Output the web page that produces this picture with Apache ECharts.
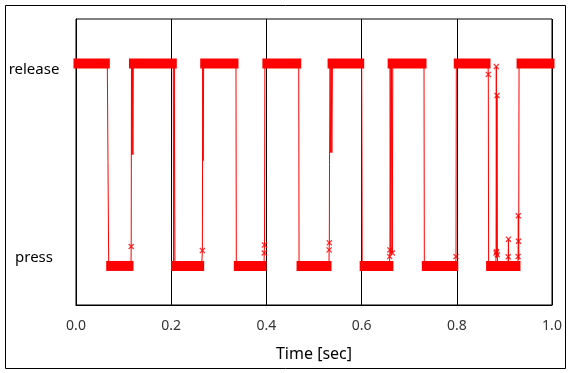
<!DOCTYPE html>
<html>
<head>
<meta charset="utf-8">
<script src="https://cdn.jsdelivr.net/npm/echarts@6/dist/echarts.min.js"></script>
<style>
  html, body { margin: 0; padding: 0; background: #fff; }
  #chart { width: 571px; height: 373px; }
</style>
</head>
<body>
<div id="chart"></div>
<script>
// Level names (value 1 = release, value 0 = press)
const levelNames = { 0: 'press', 1: 'release' };
const xTicks = [0.0, 0.2, 0.4, 0.6, 0.8, 1.0];

// Signal trace: [time (s), level]
const signal = [
  [0, 1], [0.0658, 1], [0.0672, 0.51], [0.0687, 0],
  [0.1155, 0], [0.1160, 0.096], [0.1165, 1], [0.1175, 0.55], [0.1185, 1], [0.1195, 0.55], [0.1205, 1],
  [0.2044, 1], [0.2050, 0], [0.2065, 1], [0.2078, 0],
  [0.2640, 0], [0.2655, 0.076], [0.2662, 1], [0.2672, 0.52], [0.2682, 1],
  [0.3361, 1], [0.3368, 0],
  [0.3950, 0], [0.3955, 0.064], [0.3960, 0.104], [0.3968, 1],
  [0.4679, 1], [0.4686, 0],
  [0.5315, 0], [0.5318, 0.079], [0.5322, 0.114], [0.5326, 0.50], [0.5338, 1], [0.5350, 0.56], [0.5362, 1], [0.5375, 0.56], [0.5388, 1],
  [0.6002, 1], [0.6008, 0.5], [0.6012, 0],
  [0.6585, 0], [0.6590, 0.046], [0.6595, 0.079], [0.6600, 1], [0.6615, 0.06], [0.6630, 1], [0.6645, 0.064], [0.6655, 1],
  [0.7311, 1], [0.7318, 0],
  [0.7978, 0], [0.7983, 0.046], [0.7990, 1],
  [0.8655, 1], [0.8662, 0.946], [0.8668, 0],
  [0.8820, 0], [0.8825, 0.064], [0.8830, 0.985], [0.8838, 0.04], [0.8845, 0.842], [0.8852, 0.05], [0.8860, 0],
  [0.9075, 0], [0.9080, 0.045], [0.9085, 0.132], [0.9090, 0],
  [0.9285, 0], [0.9288, 0.046], [0.9292, 0.248], [0.9296, 0.122], [0.9300, 0.03], [0.9308, 1],
  [1.0, 1]
];

// Dense sample bands: [start, end] at each level
const releaseSegs = [[0, 0.0658], [0.1165, 0.2065], [0.2662, 0.3361], [0.3968, 0.4679], [0.5338, 0.6002], [0.6600, 0.7311], [0.7990, 0.8655], [0.9308, 1.0]];
const pressSegs = [[0.0687, 0.1155], [0.2050, 0.2640], [0.3368, 0.3950], [0.4686, 0.5315], [0.6012, 0.6615], [0.7318, 0.7978], [0.8668, 0.9285]];

// Isolated sample markers off the levels: [time, level]
const markers = [
  [0.1160, 0.096], [0.2655, 0.076], [0.3955, 0.064], [0.3960, 0.104],
  [0.5318, 0.079], [0.5322, 0.114], [0.6590, 0.046], [0.6595, 0.079], [0.6645, 0.064],
  [0.7983, 0.046], [0.8662, 0.946], [0.8825, 0.064], [0.8830, 0.985], [0.8845, 0.842],
  [0.8835, 0.07], [0.8850, 0.055], [0.9080, 0.045], [0.9085, 0.132],
  [0.9288, 0.046], [0.9292, 0.248], [0.9296, 0.122]
];

const bandData = releaseSegs.map(s => [s[0], s[1], 1]).concat(pressSegs.map(s => [s[0], s[1], 0]));

const RED = '#ff0000';
const xPath = 'path://M0,1.5L1.5,0L5,3.5L8.5,0L10,1.5L6.5,5L10,8.5L8.5,10L5,6.5L1.5,10L0,8.5L3.5,5Z';

const chart = echarts.init(document.getElementById('chart'), null, { renderer: 'canvas' });
chart.setOption({
  animation: false,
  backgroundColor: '#fff',
  graphic: [{
    type: 'rect',
    shape: { x: 5.5, y: 5.5, width: 560, height: 363 },
    style: { fill: 'none', stroke: '#000', lineWidth: 1 },
    silent: true
  }],
  grid: {
    left: 76, top: 19, right: 19, bottom: 68,
    show: true, borderColor: '#000', borderWidth: 1, backgroundColor: 'transparent'
  },
  xAxis: {
    type: 'value',
    min: 0, max: 1, interval: 0.2,
    name: 'Time [sec]',
    nameLocation: 'middle',
    nameGap: 41,
    nameTextStyle: { color: '#000', fontSize: 16, fontFamily: 'Noto Sans' },
    axisLine: { show: true, onZero: false, lineStyle: { color: '#000', width: 1 } },
    axisTick: { show: false },
    splitLine: { show: true, lineStyle: { color: '#000', width: 1 } },
    axisLabel: {
      color: '#333', fontSize: 14, fontFamily: 'Noto Sans', margin: 14,
      customValues: xTicks,
      formatter: v => v.toFixed(1)
    }
  },
  yAxis: {
    type: 'value',
    min: -0.193, max: 1.22,
    axisLine: { show: true, onZero: false, lineStyle: { color: '#000', width: 1 } },
    axisTick: { show: false },
    splitLine: { show: false },
    axisLabel: {
      customValues: [0, 1],
      align: 'center',
      margin: 42,
      formatter: v => (Math.round(v) === 1 ? '{r|' + levelNames[1] + '}' : '{p|' + levelNames[0] + '}'),
      rich: {
        r: { color: '#000', fontSize: 15, fontFamily: 'Noto Sans', padding: [12, 0, 0, 0] },
        p: { color: '#000', fontSize: 15, fontFamily: 'Noto Sans', padding: [0, 0, 17, 0] }
      }
    }
  },
  series: [
    {
      type: 'custom',
      name: 'bands',
      data: bandData,
      encode: { x: [0, 1], y: 2 },
      renderItem: function (params, api) {
        const p1 = api.coord([api.value(0), api.value(2)]);
        const p2 = api.coord([api.value(1), api.value(2)]);
        return {
          type: 'rect',
          shape: { x: p1[0] - 2.5, y: p1[1] - 5, width: p2[0] - p1[0] + 5, height: 10 },
          style: { fill: RED }
        };
      },
      z: 2
    },
    {
      type: 'line',
      name: 'signal',
      data: signal,
      showSymbol: false,
      lineStyle: { color: RED, width: 1 },
      z: 3
    },
    {
      type: 'scatter',
      name: 'samples',
      data: markers,
      symbol: xPath,
      symbolSize: 6,
      itemStyle: { color: RED },
      z: 4
    }
  ]
});
</script>
</body>
</html>
